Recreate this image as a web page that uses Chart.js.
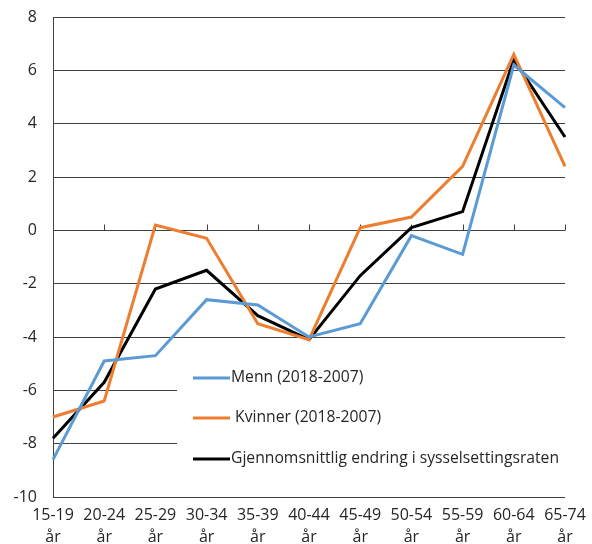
<!DOCTYPE html>
<html>
<head>
<meta charset="utf-8">
<style>
html,body{margin:0;padding:0;background:#fff;}
#wrap{position:relative;width:592px;height:544px;}
</style>
<script src="https://cdn.jsdelivr.net/npm/chart.js@4/dist/chart.umd.min.js"></script>
</head>
<body>
<div id="wrap"><canvas id="c" width="592" height="544"></canvas></div>
<script>
const categories = [["15-19","år"],["20-24","år"],["25-29","år"],["30-34","år"],["35-39","år"],["40-44","år"],["45-49","år"],["50-54","år"],["55-59","år"],["60-64","år"],["65-74","år"]];
const menn = [-8.6, -4.9, -4.7, -2.6, -2.8, -4.0, -3.5, -0.2, -0.9, 6.2, 4.6];
const kvinner = [-7.0, -6.4, 0.2, -0.3, -3.5, -4.1, 0.1, 0.5, 2.4, 6.6, 2.4];
const snitt = [-7.8, -5.7, -2.2, -1.5, -3.2, -4.1, -1.7, 0.1, 0.7, 6.4, 3.5];
const seriesLabels = ["Menn (2018-2007)", " Kvinner (2018-2007)", "Gjennomsnittlig endring i sysselsettingsraten"];
const seriesColors = ["#5B9BD5", "#ED7D31", "#000000"];
const yMin = -10, yMax = 8, yStep = 2;

const FONT = "'Open Sans', sans-serif";
const TEXT = "#262626";
const GRID = "#404040";

const zeroTicks = {
  id: 'zeroTicks',
  beforeDatasetsDraw(chart) {
    const ctx = chart.ctx, x = chart.scales.x, y = chart.scales.y;
    const y0 = Math.round(y.getPixelForValue(0)) + 0.5;
    ctx.save();
    ctx.strokeStyle = GRID; ctx.lineWidth = 1;
    ctx.beginPath();
    for (let i = 1; i < categories.length; i++) {
      const px = Math.round(x.getPixelForValue(i)) + 0.5;
      ctx.moveTo(px, y0); ctx.lineTo(px, y0 - 6);
    }
    ctx.stroke();
    const ca = chart.chartArea;
    ctx.fillStyle = '#fff';
    ctx.fillRect(177, 352, ca.right - 177, 126);
    ctx.restore();
  },
  afterDatasetsDraw(chart) {
    const ctx = chart.ctx;
    ctx.save();
    ctx.font = "15.7px " + FONT;
    ctx.textBaseline = 'middle';
    ctx.fillStyle = TEXT;
    const rows = [378, 418, 459];
    chart.data.datasets.forEach((ds, i) => {
      ctx.strokeStyle = ds.borderColor; ctx.lineWidth = 3;
      ctx.beginPath(); ctx.moveTo(193, rows[i]); ctx.lineTo(230, rows[i]); ctx.stroke();
      ctx.fillText(ds.label, 231, rows[i]);
    });
    ctx.restore();
  }
};

new Chart(document.getElementById('c'), {
  type: 'line',
  data: {
    labels: categories,
    datasets: [
      {label: seriesLabels[0], data: menn, borderColor: seriesColors[0]},
      {label: seriesLabels[1], data: kvinner, borderColor: seriesColors[1]},
      {label: seriesLabels[2], data: snitt, borderColor: seriesColors[2]}
    ].map(d => Object.assign(d, {borderWidth: 3, pointRadius: 0, tension: 0, fill: false, borderJoinStyle: 'miter'}))
  },
  options: {
    responsive: false,
    animation: false,
    devicePixelRatio: 1,
    layout: {padding: {left: 0, right: 27, top: 17, bottom: 0}},
    plugins: {legend: {display: false}, tooltip: {enabled: false}},
    scales: {
      x: {
        offset: false,
        grid: {display: false},
        border: {display: false},
        ticks: {color: TEXT, font: {family: FONT, size: 16, lineHeight: 1.35}, maxRotation: 0, autoSkip: false, padding: 0},
        afterFit(s) { s.height = 47; }
      },
      y: {
        min: yMin, max: yMax,
        grid: {color: GRID, lineWidth: 1, drawTicks: true, tickLength: 14, tickColor: 'rgba(0,0,0,0)'},
        border: {display: true, color: GRID, width: 1},
        ticks: {stepSize: yStep, color: TEXT, font: {family: FONT, size: 16}, padding: 2},
        afterFit(s) { s.width = 53; }
      }
    }
  },
  plugins: [zeroTicks]
});
</script>
</body>
</html>
